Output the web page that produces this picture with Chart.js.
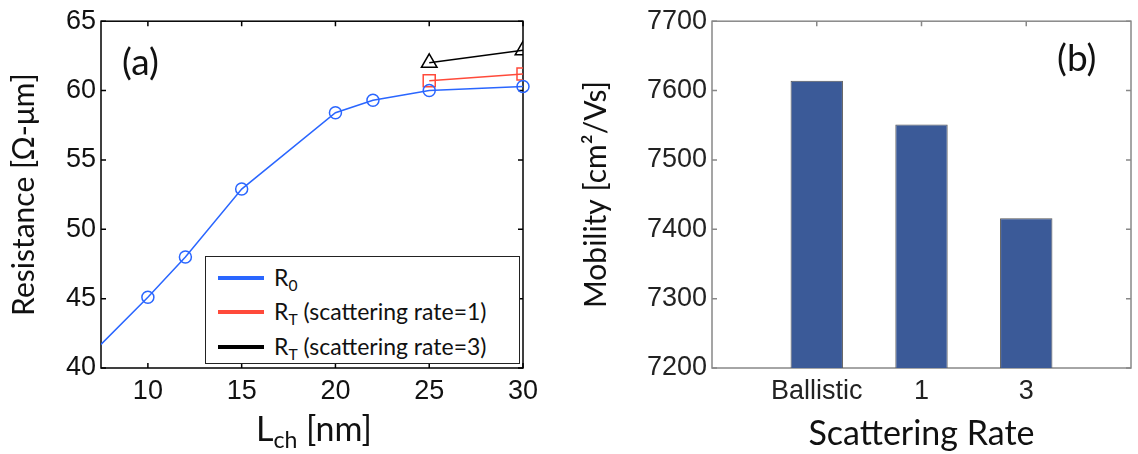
<!DOCTYPE html>
<html>
<head>
<meta charset="utf-8">
<script src="https://cdn.jsdelivr.net/npm/chart.js@4.4.0/dist/chart.umd.min.js"></script>
<style>
  body { margin: 0; background: #fff; width: 1138px; height: 454px; overflow: hidden; position: relative; font-family: Lato, sans-serif; }
  .box { position: absolute; top: 0; height: 454px; }
  #wrapA { left: 0; width: 560px; }
  #wrapB { left: 560px; width: 578px; }
  .txt { position: absolute; color: #111; white-space: nowrap; font-family: Lato, sans-serif; }
  sub { font-size: 68%; vertical-align: -0.3em; line-height: 0; }
  #legendA { position: absolute; left: 205px; top: 256px; width: 313px; height: 106px; border: 1px solid #222; background: #fff; }
  .row { position: absolute; left: 0; height: 30px; font-size: 23px; color: #111; }
  .row .sw { position: absolute; left: 12px; top: 13px; width: 46px; height: 4px; }
  .row .lb { position: absolute; left: 68px; top: 0px; white-space: nowrap; }
</style>
</head>
<body>
<div id="wrapA" class="box"><canvas id="chartA"></canvas></div>
<div id="wrapB" class="box"><canvas id="chartB"></canvas></div>

<div class="txt" style="left:122px; top:38px; font-size:37px;">(a)</div>
<div class="txt" style="left:1057px; top:34px; font-size:37px;">(b)</div>
<div class="txt" id="xTitleA" style="left:256px; top:407px; font-size:34px;">L<sub>ch</sub> [nm]</div>

<div id="legendA">
  <div class="row" style="top:6px;"><div class="sw" style="background:#2a66ff;"></div><div class="lb">R<sub>0</sub></div></div>
  <div class="row" style="top:40px;"><div class="sw" style="background:#ff4a3a;"></div><div class="lb">R<sub>T</sub> (scattering rate=1)</div></div>
  <div class="row" style="top:75px;"><div class="sw" style="background:#000;"></div><div class="lb">R<sub>T</sub> (scattering rate=3)</div></div>
</div>

<script>
// Panel (a): resistance vs channel length
const lchR0 = [5, 10, 12, 15, 20, 22, 25, 30];
const resR0 = [38.3, 45.1, 48.0, 52.9, 58.4, 59.3, 60.0, 60.3];
const lchRT = [25, 30];
const resRT1 = [60.7, 61.2];
const resRT3 = [62.0, 62.9];
const xTicksA = [10, 15, 20, 25, 30];

// Panel (b): mobility vs scattering rate
const rateLabels = ['Ballistic', '1', '3'];
const mobility = [7614, 7551, 7416];

const tickFont = { family: '"Liberation Sans", Arial, sans-serif', size: 27 };
const titleFont = { family: 'Lato, sans-serif', size: 30, lineHeight: 1.2 };

// draws a closed box around the plot area with inward ticks (matlab look)
function boxPlugin(color) {
    return {
        id: 'boxTicks',
        beforeDatasetsDraw(chart) {
            const { ctx, chartArea: a, scales } = chart;
            ctx.save();
            ctx.strokeStyle = color;
            ctx.lineWidth = 1.5;
            ctx.strokeRect(a.left, a.top, a.right - a.left, a.bottom - a.top);
            ctx.beginPath();
            scales.x.ticks.forEach(t => {
                const px = scales.x.getPixelForValue(t.value);
                ctx.moveTo(px, a.bottom); ctx.lineTo(px, a.bottom - 5);
                ctx.moveTo(px, a.top); ctx.lineTo(px, a.top + 5);
            });
            scales.y.ticks.forEach(t => {
                const py = scales.y.getPixelForValue(t.value);
                ctx.moveTo(a.left, py); ctx.lineTo(a.left + 5, py);
                ctx.moveTo(a.right, py); ctx.lineTo(a.right - 5, py);
            });
            ctx.stroke();
            ctx.restore();
        }
    };
}

const chartA = new Chart(document.getElementById('chartA'), {
    type: 'line',
    data: {
        datasets: [
            {
                label: 'R0',
                data: lchR0.map((x, i) => ({ x: x, y: resR0[i] })),
                borderColor: '#2a66ff',
                borderWidth: 1.5,
                pointStyle: 'circle',
                pointRadius: 6,
                pointBorderWidth: 1.5,
                pointBackgroundColor: 'rgba(0,0,0,0)',
                pointBorderColor: '#2a66ff',
                clip: { left: 0, top: 10, right: 10, bottom: 0 }
            },
            {
                label: 'RT rate 1',
                data: lchRT.map((x, i) => ({ x: x, y: resRT1[i] })),
                borderColor: '#ff4a3a',
                borderWidth: 1.5,
                pointStyle: 'rect',
                pointRadius: 8.5,
                pointBorderWidth: 1.5,
                pointBackgroundColor: 'rgba(0,0,0,0)',
                pointBorderColor: '#ff4a3a'
            },
            {
                label: 'RT rate 3',
                data: lchRT.map((x, i) => ({ x: x, y: resRT3[i] })),
                borderColor: '#000',
                borderWidth: 1.5,
                pointStyle: 'triangle',
                pointRadius: 9,
                pointBorderWidth: 1.5,
                pointBackgroundColor: 'rgba(0,0,0,0)',
                pointBorderColor: '#000'
            }
        ]
    },
    options: {
        responsive: true,
        maintainAspectRatio: false,
        animation: false,
        layout: { padding: { left: 0, top: 14, right: 37, bottom: 0 } },
        plugins: { legend: { display: false }, tooltip: { enabled: false } },
        scales: {
            x: {
                type: 'linear',
                min: 7.5,
                max: 30,
                afterFit: s => { s.height = 86; },
                afterBuildTicks: s => { s.ticks = xTicksA.map(v => ({ value: v })); },
                grid: { display: false, drawTicks: false },
                border: { display: false },
                ticks: { font: tickFont, color: '#111', padding: 7, maxRotation: 0, callback: v => String(v) }
            },
            y: {
                min: 40,
                max: 65,
                afterFit: s => { s.width = 101; },
                grid: { display: false, drawTicks: false },
                border: { display: false },
                ticks: { stepSize: 5, font: tickFont, color: '#111', padding: 5, callback: v => String(v) },
                title: { display: true, text: 'Resistance [Ω-μm]', font: titleFont, color: '#111', padding: { top: 6 } }
            }
        }
    },
    plugins: [boxPlugin('#000')]
});

const chartB = new Chart(document.getElementById('chartB'), {
    type: 'bar',
    data: {
        datasets: [{
            label: 'Mobility',
            data: mobility.map((v, i) => ({ x: i + 1, y: v })),
            backgroundColor: '#3b5a98',
            borderColor: '#555',
            borderWidth: 1,
            categoryPercentage: 1,
            barPercentage: 0.5
        }]
    },
    options: {
        responsive: true,
        maintainAspectRatio: false,
        animation: false,
        layout: { padding: { left: 0, top: 15, right: 7, bottom: 0 } },
        plugins: { legend: { display: false }, tooltip: { enabled: false } },
        scales: {
            x: {
                type: 'linear',
                min: 0,
                max: 4,
                offset: false,
                afterFit: s => { s.height = 86; },
                afterBuildTicks: s => { s.ticks = rateLabels.map((l, i) => ({ value: i + 1 })); },
                grid: { display: false, drawTicks: false },
                border: { display: false },
                ticks: {
                    font: tickFont, color: '#222', padding: 7, maxRotation: 0,
                    callback: v => rateLabels[v - 1]
                },
                title: { display: true, text: 'Scattering Rate', font: { family: 'Lato, sans-serif', size: 34, lineHeight: 1.2 }, color: '#111', padding: { bottom: 0 } }
            },
            y: {
                min: 7200,
                max: 7700,
                afterFit: s => { s.width = 152; },
                grid: { display: false, drawTicks: false },
                border: { display: false },
                ticks: { stepSize: 100, font: tickFont, color: '#222', padding: 5, callback: v => String(v) },
                title: { display: true, text: 'Mobility [cm²/Vs]', font: titleFont, color: '#111', padding: { top: 18 } }
            }
        }
    },
    plugins: [boxPlugin('#888')]
});
</script>
</body>
</html>
